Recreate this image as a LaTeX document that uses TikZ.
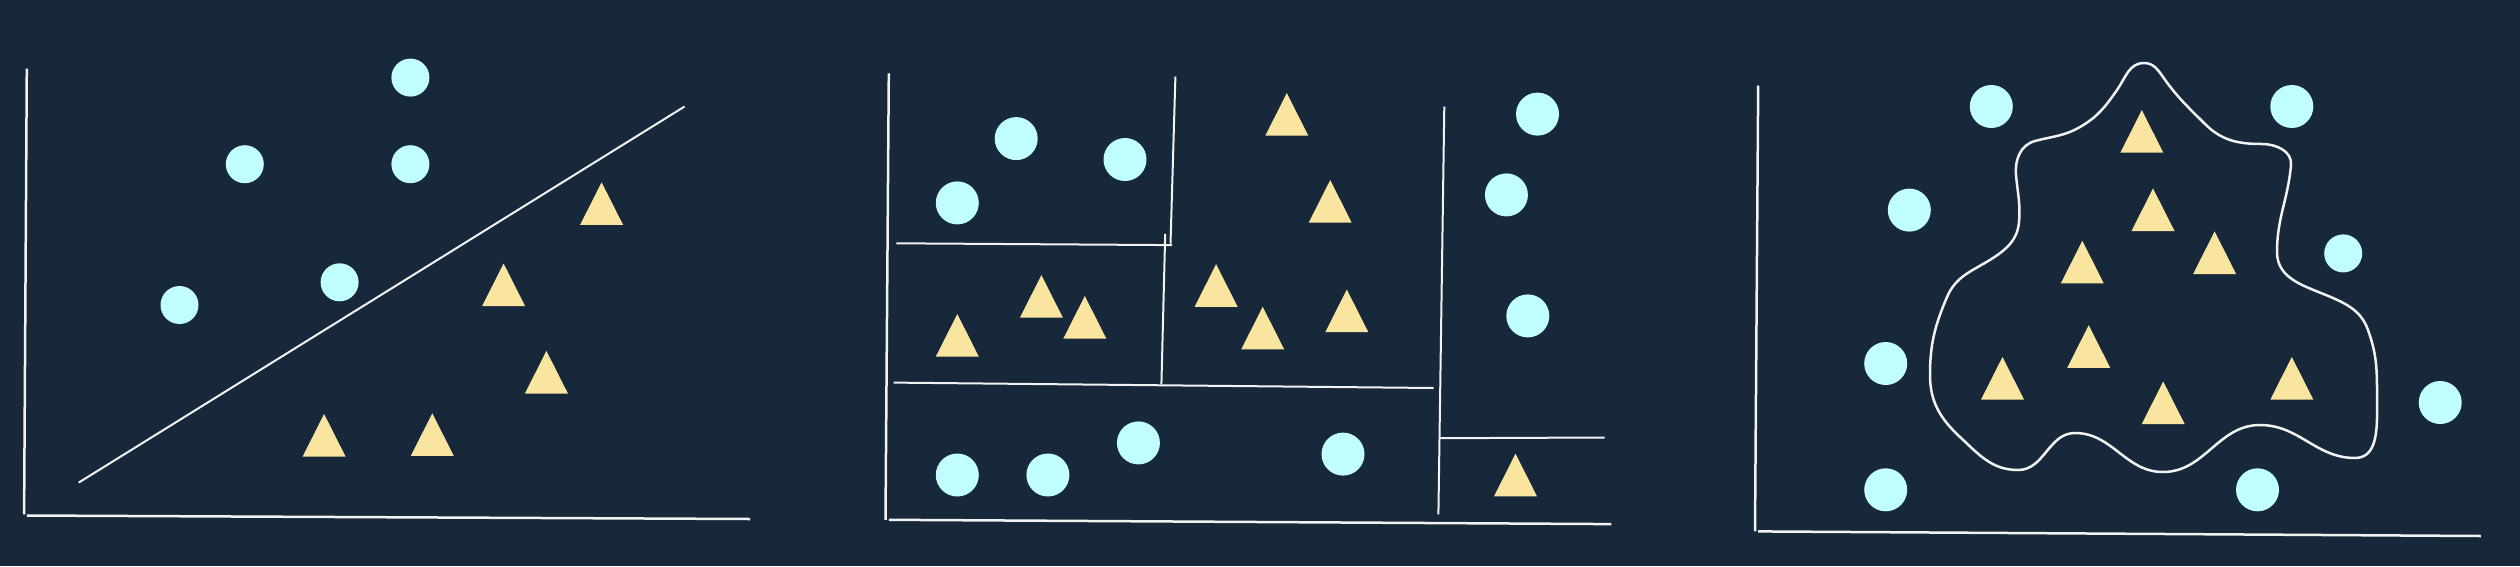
\documentclass[tikz,border=0pt]{standalone}
\usetikzlibrary{calc}
\definecolor{bgcol}{HTML}{17283A}
\definecolor{circcol}{HTML}{C0FFFE}
\definecolor{tricol}{HTML}{FAE5A0}
\definecolor{linecol}{HTML}{F2F2F2}
\tikzset{
  dotS/.style={circle,fill=circcol,draw=none,minimum size=38pt,inner sep=0pt},
  dotL/.style={circle,fill=circcol,draw=none,minimum size=43pt,inner sep=0pt},
  axisline/.style={draw=linecol,line width=2.5pt},
  sepline/.style={draw=linecol,line width=2pt},
  boundary/.style={draw=linecol,line width=2.5pt},
  tri/.pic={\fill[tricol] (0,0) -- (-21.5,42.6) -- (21.5,42.6) -- cycle;}
}
\begin{document}
\begin{tikzpicture}[x=1pt,y=-1pt]
\fill[bgcol] (0,0) rectangle (2520,566);
\useasboundingbox (0,0) rectangle (2520,566);

% ---------- Panel 1 ----------
\coordinate (a1t) at (26.8,68.6);
\coordinate (a1o) at (24.1,514.4);
\coordinate (a1s) at (26.8,515.5);
\coordinate (a1r) at (750,519);
\draw[axisline] (a1t) -- (a1o);
\draw[axisline] (a1s) -- (a1r);
\coordinate (d1a) at (78.7,482.6);
\coordinate (d1b) at (684.6,106.5);
\draw[sepline] (d1a) -- (d1b);
\node[dotS] (p1c1) at (410.4,77.6) {};
\node[dotS] (p1c2) at (244.8,164.2) {};
\node[dotS] (p1c3) at (410.4,164.2) {};
\node[dotS] (p1c4) at (339.6,282.3) {};
\node[dotS] (p1c5) at (179.5,305) {};
\pic at (601.6,182.3) {tri};
\pic at (503.6,263.5) {tri};
\pic at (546.4,350.9) {tri};
\pic at (324.1,414) {tri};
\pic at (432.3,413.3) {tri};

% ---------- Panel 2 ----------
\coordinate (a2t) at (888.8,73.3);
\coordinate (a2o) at (885.5,519.8);
\coordinate (a2s) at (888.8,519.8);
\coordinate (a2r) at (1611.4,524.1);
\draw[axisline] (a2t) -- (a2o);
\draw[axisline] (a2s) -- (a2r);
\coordinate (v1a) at (1175.4,76.5);
\coordinate (v1b) at (1170.5,243.7);
\coordinate (h1a) at (896.3,243.3);
\coordinate (h1b) at (1172.1,245.1);
\coordinate (v2a) at (1165.2,233.9);
\coordinate (v2b) at (1161.4,384.4);
\coordinate (h2a) at (893.6,382.6);
\coordinate (h2b) at (1433.6,388);
\coordinate (v3a) at (1444.3,106.5);
\coordinate (v3b) at (1438.4,514.4);
\coordinate (h3a) at (1440,438.2);
\coordinate (h3b) at (1604.5,437.5);
\draw[sepline] (v1a) -- (v1b);
\draw[sepline] (h1a) -- (h1b);
\draw[sepline] (v2a) -- (v2b);
\draw[sepline] (h2a) -- (h2b);
\draw[sepline] (v3a) -- (v3b);
\draw[sepline] (h3a) -- (h3b);
\node[dotL] (p2c1) at (1016.2,138.6) {};
\node[dotL] (p2c2) at (1125,159.5) {};
\node[dotL] (p2c3) at (957.3,202.9) {};
\node[dotL] (p2c4) at (1537.5,114.1) {};
\node[dotL] (p2c5) at (1506.4,194.9) {};
\node[dotL] (p2c6) at (1527.8,315.9) {};
\node[dotL] (p2c7) at (957.3,475) {};
\node[dotL] (p2c8) at (1047.9,475) {};
\node[dotL] (p2c9) at (1138.4,442.9) {};
\node[dotL] (p2c10) at (1343,454.1) {};
\pic at (1286.8,93.1) {tri};
\pic at (1330.2,180.1) {tri};
\pic at (1041.4,275.1) {tri};
\pic at (1084.8,296) {tri};
\pic at (957.3,314) {tri};
\pic at (1216.1,264.2) {tri};
\pic at (1262.7,306.8) {tri};
\pic at (1346.8,289.5) {tri};
\pic at (1515.5,453.7) {tri};

% ---------- Panel 3 ----------
\coordinate (a3t) at (1758.2,85.5);
\coordinate (a3o) at (1755,531.4);
\coordinate (a3s) at (1758.2,531.4);
\coordinate (a3r) at (2480.9,536);
\draw[axisline] (a3t) -- (a3o);
\draw[axisline] (a3s) -- (a3r);
\draw[boundary] (2144,63)
  to[out=180,in=55]  (2117,90)
  to[out=235,in=30]  (2080,127)
  to[out=210,in=15]  (2035,141)
  to[out=195,in=95]  (2016,175)
  to[out=275,in=85]  (2019,222)
  to[out=265,in=33]  (1993,258)
  to[out=213,in=67]  (1947,297)
  to[out=247,in=90]  (1930,375)
  to[out=270,in=137] (1960,437)
  to[out=317,in=180] (2018,470)
  to[out=0,in=180]   (2075,433)
  to[out=0,in=180]   (2163,472)
  to[out=0,in=180]   (2260,425)
  to[out=0,in=180]   (2355,458)
  to[out=0,in=270]   (2377,400)
  to[out=90,in=290]  (2368,330)
  to[out=110,in=336] (2333,298)
  to[out=156,in=270] (2277,252)
  to[out=90,in=265]  (2291,165)
  to[out=85,in=0]    (2262,144)
  to[out=180,in=315] (2205,124)
  to[out=135,in=305] (2163,77)
  to[out=125,in=0]   (2144,63) -- cycle;
\node[dotL] (p3c1) at (1991.3,106.5) {};
\node[dotL] (p3c2) at (2291.8,106.5) {};
\node[dotL] (p3c3) at (1909.3,210.1) {};
\node[dotS] (p3c4) at (2343.2,253.4) {};
\node[dotL] (p3c5) at (1885.7,363.5) {};
\node[dotL] (p3c6) at (2440.2,402.5) {};
\node[dotL] (p3c7) at (1885.7,489.8) {};
\node[dotL] (p3c8) at (2257.5,489.8) {};
\pic at (2141.8,110.1) {tri};
\pic at (2153,188.4) {tri};
\pic at (2214.6,231.4) {tri};
\pic at (2082.3,240.8) {tri};
\pic at (2088.7,325.2) {tri};
\pic at (2002.5,357) {tri};
\pic at (2291.8,357) {tri};
\pic at (2163.2,381.5) {tri};
\end{tikzpicture}
\end{document}
